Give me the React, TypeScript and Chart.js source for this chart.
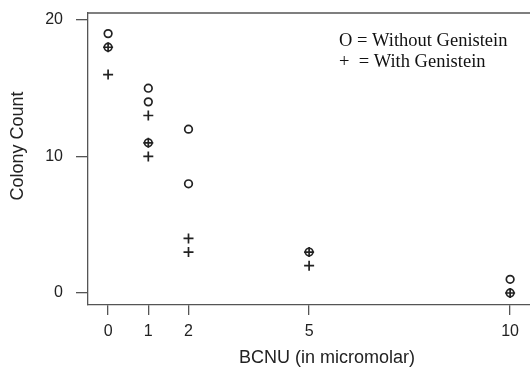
import React, { useEffect, useRef } from "react";
import { Chart, registerables } from "chart.js";

Chart.register(...registerables);

const X_TICKS = [0, 1, 2, 5, 10];
const Y_TICKS = [0, 10, 20];
const WITHOUT_DOSE = [0, 0, 1, 1, 1, 2, 2, 5, 10, 10];
const WITHOUT_COUNT = [19, 18, 15, 14, 11, 12, 8, 3, 1, 0];
const WITH_DOSE = [0, 0, 1, 1, 1, 2, 2, 5, 5, 10];
const WITH_COUNT = [18, 16, 13, 11, 10, 4, 3, 3, 2, 0];
const LEGEND_LINES = ["O = Without Genistein", "+  = With Genistein"];
const X_TITLE = "BCNU (in micromolar)";
const Y_TITLE = "Colony Count";

const AXIS = "#555";
const INK = "#222";
const SANS = '"Liberation Sans", Arial, Helvetica, sans-serif';
const SERIF = '"Liberation Serif", "Times New Roman", serif';

const framePlugin = {
  id: "frameAndLegend",
  afterDraw(chart: any) {
    const { ctx, chartArea } = chart;
    ctx.save();
    ctx.strokeStyle = AXIS;
    ctx.lineWidth = 1.3;
    ctx.beginPath();
    ctx.moveTo(chartArea.left, chartArea.top);
    ctx.lineTo(chartArea.right, chartArea.top);
    ctx.lineTo(chartArea.right, chartArea.bottom);
    ctx.stroke();
    // legend text
    ctx.fillStyle = "#111";
    ctx.font = `18.5px ${SERIF}`;
    ctx.textAlign = "left";
    ctx.textBaseline = "alphabetic";
    ctx.fillText(LEGEND_LINES[0], chartArea.left + 251, chartArea.top + 33);
    ctx.fillText(LEGEND_LINES[1], chartArea.left + 251, chartArea.top + 54);
    // y axis title
    ctx.save();
    ctx.translate(18, 146);
    ctx.rotate(-Math.PI / 2);
    ctx.font = `18px ${SANS}`;
    ctx.fillStyle = INK;
    ctx.textAlign = "center";
    ctx.textBaseline = "middle";
    ctx.fillText(Y_TITLE, 0, 0);
    ctx.restore();
    ctx.restore();
  },
};

export default function App() {
  const ref = useRef<HTMLCanvasElement>(null);

  useEffect(() => {
    if (!ref.current) return;
    const chart = new Chart(ref.current, {
      type: "scatter",
      data: {
        datasets: [
          {
            label: "Without Genistein",
            data: WITHOUT_DOSE.map((x, i) => ({ x, y: WITHOUT_COUNT[i] })),
            pointStyle: "circle",
            pointRadius: 3.8,
            pointBorderWidth: 1.7,
            pointBackgroundColor: "rgba(0,0,0,0)",
            pointBorderColor: INK,
            showLine: false,
          },
          {
            label: "With Genistein",
            data: WITH_DOSE.map((x, i) => ({ x, y: WITH_COUNT[i] })),
            pointStyle: "cross",
            pointRadius: 5,
            pointBorderWidth: 1.7,
            pointBackgroundColor: INK,
            pointBorderColor: INK,
            showLine: false,
          },
        ],
      },
      options: {
        responsive: false,
        devicePixelRatio: 1,
        animation: false,
        layout: { autoPadding: false, padding: { top: 13, left: 0, right: 0, bottom: 0 } },
        plugins: { legend: { display: false }, tooltip: { enabled: false } },
        scales: {
          x: {
            type: "linear",
            min: -0.5,
            max: 11.39,
            afterBuildTicks: (s: any) => {
              s.ticks = X_TICKS.map((v) => ({ value: v }));
            },
            afterFit: (s: any) => {
              s.height = 63;
              s.paddingLeft = 0;
              s.paddingRight = 0;
            },
            ticks: {
              autoSkip: false,
              maxRotation: 0,
              padding: 7,
              color: INK,
              font: { family: SANS, size: 16 },
            },
            grid: { drawOnChartArea: false, tickLength: 10, color: AXIS, lineWidth: 1.3 },
            border: { color: AXIS, width: 1.3 },
            title: {
              display: true,
              text: X_TITLE,
              color: INK,
              font: { family: SANS, size: 18 },
              padding: { top: 0, bottom: -1 },
            },
          },
          y: {
            type: "linear",
            min: -0.88,
            max: 20.51,
            afterBuildTicks: (s: any) => {
              s.ticks = Y_TICKS.map((v) => ({ value: v }));
            },
            afterFit: (s: any) => {
              s.width = 88;
              s.paddingTop = 0;
              s.paddingBottom = 0;
            },
            ticks: {
              padding: 13,
              color: INK,
              font: { family: SANS, size: 16 },
            },
            grid: { drawOnChartArea: false, tickLength: 12, color: AXIS, lineWidth: 1.3 },
            border: { color: AXIS, width: 1.3 },
            title: { display: false },
          },
        },
      },
      plugins: [framePlugin],
    } as any);
    return () => chart.destroy();
  }, []);

  return (
    <div
      style={{
        position: "fixed",
        left: 0,
        top: 0,
        width: 530,
        height: 368,
        overflow: "hidden",
        background: "#fff",
      }}
    >
      <canvas ref={ref} width={566} height={368} style={{ display: "block", width: 566, height: 368 }} />
    </div>
  );
}
